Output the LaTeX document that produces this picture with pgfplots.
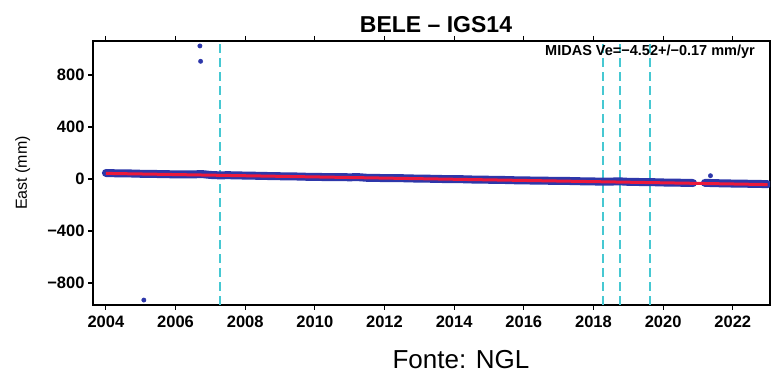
\documentclass[border=0pt]{standalone}
\usepackage{pgfplots}
\pgfplotsset{compat=1.18}
\usepackage{fontspec}
\setmainfont{Liberation Sans}
\definecolor{dotblue}{RGB}{45,55,170}
\definecolor{fitred}{RGB}{235,25,60}
\definecolor{dashcyan}{RGB}{70,200,210}
\pgfplotstableread{
t y
2004.00 46
2004.25 44
2004.50 44
2004.75 42
2005.00 40
2005.25 40
2005.50 38
2005.75 37
2006.00 35
2006.25 35
2006.50 35
2006.75 38
2007.00 31
2007.25 28
2007.50 29
2007.75 28
2008.00 26
2008.25 25
2008.50 24
2008.75 22
2009.00 21
2009.25 20
2009.50 19
2009.75 17
2010.00 16
2010.25 15
2010.50 14
2010.75 14
2011.00 13
2011.25 14
2011.50 9
2011.75 8
2012.00 7
2012.25 6
2012.50 6
2012.75 4
2013.00 3
2013.25 2
2013.50 1
2013.75 -1
2014.00 -2
2014.25 -2
2014.50 -4
2014.75 -5
2015.00 -6
2015.25 -7
2015.50 -8
2015.75 -10
2016.00 -11
2016.25 -12
2016.50 -12
2016.75 -14
2017.00 -14
2017.25 -15
2017.50 -17
2017.75 -18
2018.00 -19
2018.25 -21
2018.50 -20
2018.75 -18
2019.00 -22
2019.25 -23
2019.50 -24
2019.75 -25
2020.00 -27
2020.25 -28
2020.50 -29
2020.86 -31
}\eastA
\pgfplotstableread{
t y
2021.20 -30
2021.50 -32
2021.75 -34
2022.00 -35
2022.25 -36
2022.50 -37
2022.75 -38
2023.00 -40
}\eastB
\begin{document}
\begin{tikzpicture}[x=1pt,y=1pt]
\path[use as bounding box] (0,0) rectangle (771,374);
\begin{axis}[at={(93pt,69pt)}, anchor=south west, scale only axis,
  width=677pt, height=264pt,
  xmin=2003.63, xmax=2023.07, ymin=-969, ymax=1061,
  xtick={2004,2006,...,2022},
  xticklabels={2004,2006,2008,2010,2012,2014,2016,2018,2020,2022},
  minor x tick num=3,
  ytick={-800,-400,0,400,800},
  yticklabels={−800,−400,0,400,800},
  tick align=outside, ytick pos=left, xtick pos=both, xticklabel pos=bottom,
  major tick length=5pt, minor tick length=5pt,
  axis line style={line width=1.8pt},
  every tick/.style={line width=1.2pt,black},
  ticklabel style={font=\fontsize{16.5}{16.5}\selectfont\bfseries},
  xticklabel style={yshift=-2pt},
  /pgf/number format/assume math mode=true,
  ylabel={East (mm)},
  ylabel style={font=\fontsize{16}{16}\selectfont, at={(axis description cs:-0.1037,0.5)}, anchor=center},
  clip=true]
\addplot[dashcyan, line width=2.2pt, dash pattern=on 9pt off 5pt] coordinates {(2007.28,-969) (2007.28,1061)};
\addplot[dashcyan, line width=2.2pt, dash pattern=on 9pt off 5pt] coordinates {(2018.27,-969) (2018.27,1061)};
\addplot[dashcyan, line width=2.2pt, dash pattern=on 9pt off 5pt] coordinates {(2018.76,-969) (2018.76,1061)};
\addplot[dashcyan, line width=2.2pt, dash pattern=on 9pt off 5pt] coordinates {(2019.63,-969) (2019.63,1061)};
\addplot[dotblue, line width=8pt, line cap=round] table[x=t,y=y] {\eastA};
\addplot[dotblue, line width=8pt, line cap=round] table[x=t,y=y] {\eastB};
\addplot[fitred, line width=3pt] coordinates {(2004,43) (2023,-43)};
\addplot[only marks, mark=*, mark size=2.2pt, dotblue] coordinates {(2006.70,1023) (2006.72,905) (2005.09,-931) (2021.36,25)};
\end{axis}
\node[anchor=east, font=\fontsize{14.5}{14.5}\selectfont\bfseries, inner sep=0pt] at (755,322) {MIDAS Ve=−4.52+/−0.17 mm/yr};
\node[anchor=base, font=\fontsize{23}{23}\selectfont\bfseries, inner sep=0pt] at (436,341) {BELE – IGS14};
\node[font=\fontsize{26}{26}\selectfont] at (461,14) {Fonte: NGL};
\end{tikzpicture}
\end{document}
